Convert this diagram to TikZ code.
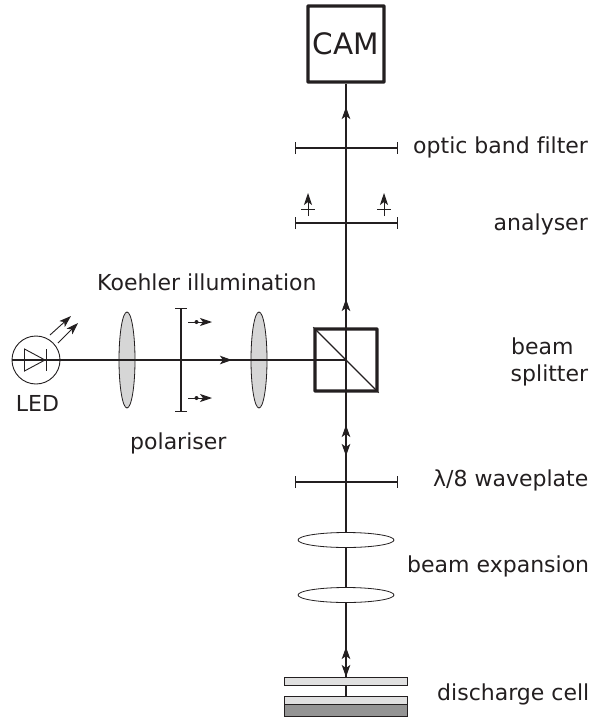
\documentclass[tikz,border=0pt]{standalone}
\usepackage{fontspec}
\setmainfont[Ligatures=CommonOff]{DejaVu Sans}
\usetikzlibrary{arrows.meta,shapes.geometric}
\definecolor{ink}{HTML}{231F20}
\tikzset{
 x=1bp,y=-1bp,
 beam/.style={draw=ink,line width=1.2bp},
 flow/.style={beam,-{Stealth[length=12bp,width=8.5bp,inset=3bp]}},
 bidir/.style={beam,{Stealth[length=12bp,width=8.5bp,inset=3bp]}-{Stealth[length=12bp,width=8.5bp,inset=3bp]}},
 small/.style={draw=ink,line width=.9bp,-{Stealth[length=12bp,width=8bp,inset=3bp]}},
 plate/.style={draw=ink,line width=1.1bp,{Bar[width=12bp,line width=1bp]}-{Bar[width=12bp,line width=1bp]}},
 box/.style={draw=ink,line width=3.4bp,minimum width=#1,minimum height=#1,inner sep=0pt,anchor=center,rounded corners=.5bp},
 lensv/.style={ellipse,draw=ink,fill=black!16,line width=.8bp,minimum width=16bp,minimum height=96bp,inner sep=0pt},
 lensh/.style={ellipse,draw=ink,fill=white,line width=.8bp,minimum width=96bp,minimum height=15bp,inner sep=0pt},
 slab/.style={draw=ink,line width=1bp},
 lbl/.style={text=ink,font=\fontsize{22bp}{24bp}\selectfont,inner sep=0pt}
}
\begin{document}
\begin{tikzpicture}
\useasboundingbox (0,0) rectangle (592,720);
\coordinate (led) at (36,360);
\coordinate (bsc) at (346,360);
\coordinate (cell) at (346,697);
\node[circle,draw=ink,line width=.9bp,minimum size=48bp,inner sep=0pt] (ledc) at (led) {};
\draw[beam] (ledc.west) -- (bsc);
\node[box=76bp,fill=white] (cam) at (346,44) {};
\node[lbl,font=\fontsize{29.5bp}{32bp}\selectfont] (camt) at (346,44) {CAM};
\draw[beam] (cam.south) -- (cell);
\draw[flow] (346,119) -- (346,107);
\draw[flow] (346,312) -- (346,299);
\draw[flow] (218,360) -- (232,360);
\draw[bidir] (346,425) -- (346,456);
\draw[bidir] (346,647) -- (346,677);
\coordinate (f1) at (295,148); \coordinate (f2) at (398,148);
\coordinate (a1) at (295,223); \coordinate (a2) at (398,223);
\coordinate (w1) at (295,482); \coordinate (w2) at (398,482);
\coordinate (p1) at (181,308); \coordinate (p2) at (181,412);
\draw[plate] (f1) -- (f2);
\draw[plate] (a1) -- (a2);
\draw[plate] (w1) -- (w2);
\draw[plate] (p1) -- (p2);
\foreach \x/\n in {308/l,384/r}{
 \coordinate (an\n1) at (\x,216);
 \coordinate (an\n2) at (\x,193);
 \draw[small] (an\n1) -- (an\n2);
 \draw[draw=ink,line width=.8bp] (\x-7,209) -- (\x+7,209);
}
\foreach \y/\n in {322/u,398/d}{
 \coordinate (po\n1) at (188,\y);
 \coordinate (po\n2) at (212,\y);
 \draw[small] (po\n1) -- (po\n2);
 \fill[ink] (196.5,\y) circle (2bp);
}
\node[lensv] (l1) at (127,360) {};
\node[lensv] (l2) at (259,360) {};
\draw[beam] (l1.west) -- (l1.east);
\draw[beam] (l2.west) -- (l2.east);
\node[lensh] (l3) at (346,540) {};
\node[lensh] (l4) at (346,595) {};
\node[box=62bp] (bs) at (bsc) {};
\draw[draw=ink,line width=1.1bp] (bs.north west) -- (bs.south east);
\draw[draw=ink,line width=.9bp] (24.5,349) -- (45,360) -- (24.5,371) -- cycle;
\draw[draw=ink,line width=.9bp] (46,349) -- (46,371);
\coordinate (e1) at (50,335); \coordinate (e2) at (71,316);
\coordinate (e3) at (58,343); \coordinate (e4) at (78,323);
\draw[small] (e1) -- (e2);
\draw[small] (e3) -- (e4);
\node[slab,fill=black!12,minimum width=123bp,minimum height=8bp,inner sep=0pt] (s1) at (345.5,681) {};
\node[slab,fill=black!12,minimum width=123bp,minimum height=8bp,inner sep=0pt] (s2) at (345.5,700.5) {};
\node[slab,fill=black!42,minimum width=123bp,minimum height=12bp,inner sep=0pt] (s3) at (345.5,710.5) {};
\node[lbl,anchor=base west] (t1) at (413,153.3) {optic band filter};
\node[lbl,anchor=base east] (t2) at (588,230) {analyser};
\node[lbl,anchor=base west] (t3) at (97,290) {Koehler illumination};
\node[lbl,anchor=base west] (t4) at (511,354) {beam};
\node[lbl,anchor=base west] (t5) at (510.5,381) {splitter};
\node[lbl,anchor=base] (t6) at (37.5,411) {LED};
\node[lbl,anchor=base west] (t7) at (130,449) {polariser};
\node[lbl,anchor=base west] (t8) at (433,486.7) {λ/8 waveplate};
\node[lbl,anchor=base west] (t9) at (407,572) {beam expansion};
\node[lbl,anchor=base west] (t10) at (437,700.7) {discharge cell};
\end{tikzpicture}
\end{document}
